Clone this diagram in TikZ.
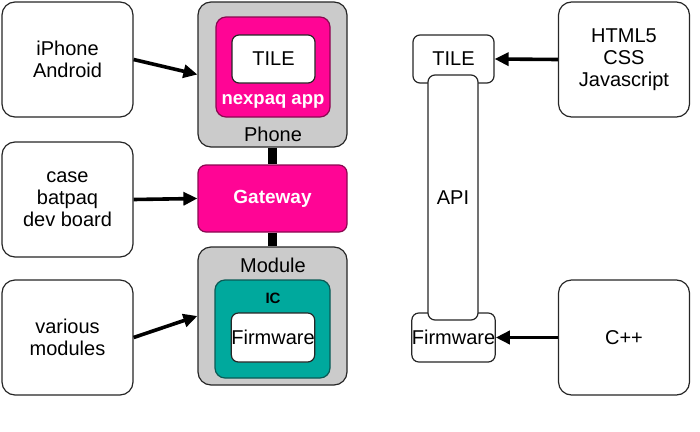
\documentclass[tikz,border=0pt]{standalone}
\usepackage{fontspec}
\setmainfont{Liberation Sans}
\usetikzlibrary{arrows.meta}
\definecolor{pinkc}{HTML}{FF0595}
\definecolor{pinkd}{HTML}{8A0850}
\definecolor{tealc}{HTML}{00A99D}
\definecolor{tealeb}{HTML}{0B5A55}
\definecolor{greyc}{HTML}{CBCBCB}
\begin{document}
\begin{tikzpicture}[x=1pt,y=-1pt,
  base/.style={draw=black!85,line width=1.2pt,rounded corners=13pt,align=center,inner sep=0pt,
    font=\fontsize{20}{22}\selectfont},
  srcbox/.style={base,fill=white,minimum width=131pt,minimum height=115pt},
  grey/.style={base,fill=greyc,minimum width=149pt},
  pinkbox/.style={base,fill=pinkc,draw=pinkd,rounded corners=10pt},
  tealbox/.style={base,fill=tealc,draw=tealeb,rounded corners=10pt},
  whitebox/.style={base,fill=white,rounded corners=7pt},
  lbl/.style={font=\fontsize{20}{22}\selectfont,inner sep=0pt},
  arr/.style={line width=3.6pt,-{Triangle[length=14pt,width=13pt]}},
  link/.style={line width=9pt}]
\useasboundingbox (0,0) rectangle (700,431);
% left sources
\node[srcbox] (iphone) at (67.5,59.5) {iPhone\\Android};
\node[srcbox] (case) at (67.5,199.5) {case\\batpaq\\dev board};
\node[srcbox] (various) at (67.5,337.5) {various\\modules};
% middle column
\node[grey,minimum height=145pt] (phone) at (272.5,74.5) {};
\node[pinkbox,minimum width=114pt,minimum height=100pt] (app) at (273,67) {};
\node[whitebox,minimum width=83pt,minimum height=48pt] (tile) at (273.5,59) {TILE};
\node[lbl,text=white,font=\bfseries\fontsize{18.5}{20}\selectfont] (applbl) at (273,101) {nexpaq app};
\node[lbl] (phonelbl) at (273,134) {Phone};
\node[pinkbox,rounded corners=8pt,minimum width=149pt,minimum height=67pt,text=white,
  font=\bfseries\fontsize{19}{21}\selectfont] (gateway) at (272.5,198.5) {Gateway};
\node[grey,minimum height=138pt] (module) at (272.5,316) {};
\node[lbl] (modulelbl) at (273,265) {Module};
\node[tealbox,minimum width=115pt,minimum height=98pt] (ic) at (272.5,329) {};
\node[lbl,font=\bfseries\fontsize{15}{17}\selectfont] (iclbl) at (273,298) {IC};
\node[whitebox,minimum width=82pt,minimum height=49pt] (fw) at (273,337.5) {Firmware};
\draw[link] (phone.south) -- (gateway.north);
\draw[link] (gateway.south) -- (module.north);
% right column
\node[whitebox,minimum width=81pt,minimum height=48pt] (tileR) at (453.5,59) {TILE};
\node[whitebox,minimum width=81pt,minimum height=49pt] (fwR) at (453.5,337.5) {Firmware};
\node[whitebox,minimum width=50pt,minimum height=245pt] (api) at (453,197.5) {API};
\node[srcbox] (html) at (624,59.5) {HTML5\\CSS\\Javascript};
\node[srcbox] (cpp) at (624,337.5) {C++};
% arrows
\draw[arr] (iphone.east) -- (phone.west);
\draw[arr] (case.east) -- (gateway.west);
\draw[arr] (various.east) -- (module.west);
\draw[arr] (html.west) -- (tileR.east);
\draw[arr] (cpp.west) -- (fwR.east);
\end{tikzpicture}
\end{document}
